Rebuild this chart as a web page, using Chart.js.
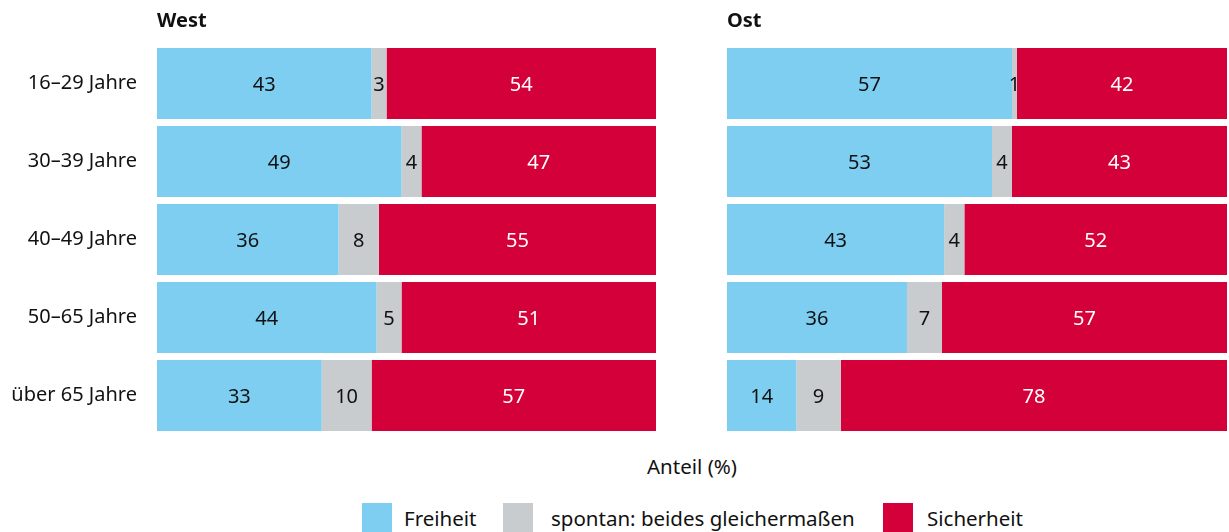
<!DOCTYPE html>
<html>
<head>
<meta charset="utf-8">
<script src="https://cdn.jsdelivr.net/npm/chart.js@4"></script>
<style>
  body { margin: 0; background: #fff; font-family: "Noto Sans", sans-serif; color: #111; }
  #wrap { position: relative; width: 1229px; height: 532px; overflow: hidden; }
  #west { position: absolute; left: 0; top: 0; }
  #ost { position: absolute; left: 700px; top: 0; }
  .axis-title { position: absolute; left: 0; width: 1384px; top: 452px; text-align: center; font-size: 20.5px; }
  .legend { position: absolute; top: 503px; font-size: 20.5px; line-height: 30px; }
  .sw { position: absolute; top: 503px; width: 30px; height: 30px; }
</style>
</head>
<body>
<div id="wrap">
  <canvas id="west" width="660" height="440"></canvas>
  <canvas id="ost" width="529" height="440"></canvas>
  <div class="axis-title">Anteil (%)</div>
  <div class="sw" style="left:362px;background:#7ecef2"></div>
  <div class="legend" style="left:404px">Freiheit</div>
  <div class="sw" style="left:503px;background:#c8cccf"></div>
  <div class="legend" style="left:551px">spontan: beides gleichermaßen</div>
  <div class="sw" style="left:883px;background:#d3003a"></div>
  <div class="legend" style="left:927px">Sicherheit</div>
</div>
<script>
// age groups
const ageGroups = ['16–29 Jahre', '30–39 Jahre', '40–49 Jahre', '50–65 Jahre', 'über 65 Jahre'];
const seriesNames = ['Freiheit', 'spontan: beides gleichermaßen', 'Sicherheit'];
const seriesColors = ['#7ecef2', '#c8cccf', '#d3003a'];
const labelColors = ['#111', '#111', '#fff'];

const westFreiheit = [43, 49, 36, 44, 33];
const westBeides = [3, 4, 8, 5, 10];
const westSicherheit = [54, 47, 55, 51, 57];

const ostFreiheit = [57, 53, 43, 36, 14];
const ostBeides = [1, 4, 4, 7, 9];
const ostSicherheit = [42, 43, 52, 57, 78];

const FONT = '"Noto Sans", sans-serif';

// bars are drawn as share of the row total (rounded values don't always add to 100)
function shares(series) {
  const totals = series[0].map((_, i) => series.reduce((s, arr) => s + arr[i], 0));
  return series.map(arr => arr.map((v, i) => v / totals[i] * 100));
}

const barLabels = {
  id: 'barLabels',
  afterDatasetsDraw(chart) {
    const ctx = chart.ctx;
    ctx.save();
    ctx.font = '20px ' + FONT;
    ctx.textAlign = 'center';
    ctx.textBaseline = 'middle';
    chart.data.datasets.forEach((ds, di) => {
      const meta = chart.getDatasetMeta(di);
      meta.data.forEach((bar, i) => {
        ctx.fillStyle = labelColors[di];
        ctx.fillText(String(ds.raw[i]), (bar.x + bar.base) / 2, bar.y + 2);
      });
    });
    ctx.restore();
  }
};

const panelTitle = {
  id: 'panelTitle',
  afterDraw(chart, args, opts) {
    const ctx = chart.ctx;
    ctx.save();
    ctx.font = 'bold 20px ' + FONT;
    ctx.fillStyle = '#111';
    ctx.textBaseline = 'middle';
    ctx.fillText(opts.text, chart.chartArea.left, 21);
    ctx.restore();
  }
};

function makePanel(canvasId, title, series, showLabels, padding) {
  const data = shares(series);
  return new Chart(document.getElementById(canvasId), {
    type: 'bar',
    data: {
      labels: ageGroups,
      datasets: seriesNames.map((name, k) => ({
        label: name,
        data: data[k],
        raw: series[k],
        backgroundColor: seriesColors[k],
        borderWidth: 0,
        categoryPercentage: 1,
        barPercentage: 0.91
      }))
    },
    options: {
      indexAxis: 'y',
      responsive: false,
      animation: false,
      layout: { padding },
      scales: {
        x: { stacked: true, min: 0, max: 100, display: false },
        y: {
          stacked: true,
          display: showLabels,
          grid: { display: false, drawTicks: false },
          border: { display: false },
          ticks: { color: '#111', font: { family: FONT, size: 20 }, padding: 20 },
          afterFit(scale) {
            if (!showLabels) return;
            scale.width = 157;
            scale.paddingTop = 0;
            scale.paddingBottom = 0;
          }
        }
      },
      plugins: {
        legend: { display: false },
        tooltip: { enabled: false },
        panelTitle: { text: title }
      }
    },
    plugins: [barLabels, panelTitle]
  });
}

makePanel('west', 'West', [westFreiheit, westBeides, westSicherheit], true,
  { top: 44.5, bottom: 5.5, left: 0, right: 4 });
makePanel('ost', 'Ost', [ostFreiheit, ostBeides, ostSicherheit], false,
  { top: 44.5, bottom: 5.5, left: 27, right: 2 });
</script>
</body>
</html>
